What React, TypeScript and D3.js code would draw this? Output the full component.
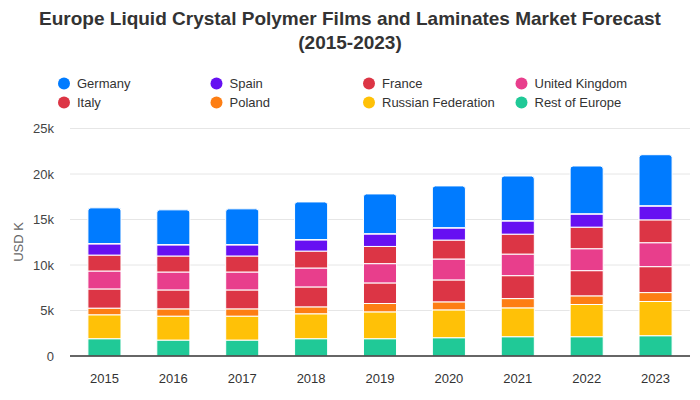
import React from "react";
import * as d3 from "d3";

const years = ["2015", "2016", "2017", "2018", "2019", "2020", "2021", "2022", "2023"];
const seriesNames = ["Rest of Europe", "Russian Federation", "Poland", "Italy", "United Kingdom", "France", "Spain", "Germany"];
const restOfEurope = [1.90, 1.75, 1.75, 1.90, 1.90, 2.01, 2.12, 2.12, 2.23];
const russianFederation = [2.63, 2.63, 2.63, 2.74, 2.95, 3.06, 3.17, 3.54, 3.76];
const poland = [0.73, 0.80, 0.80, 0.76, 0.92, 0.88, 1.02, 0.95, 0.98];
const italy = [2.11, 2.08, 2.08, 2.19, 2.26, 2.41, 2.52, 2.77, 2.85];
const unitedKingdom = [1.97, 1.97, 1.97, 2.08, 2.12, 2.30, 2.37, 2.41, 2.63];
const france = [1.75, 1.76, 1.76, 1.86, 1.89, 2.08, 2.19, 2.37, 2.51];
const spain = [1.21, 1.20, 1.20, 1.21, 1.35, 1.31, 1.43, 1.42, 1.50];
const germany = [3.98, 3.87, 3.98, 4.19, 4.42, 4.64, 4.96, 5.30, 5.66];
const yTicks = [0, 5000, 10000, 15000, 20000, 25000];
const legendOrder = ["Germany", "Spain", "France", "United Kingdom", "Italy", "Poland", "Russian Federation", "Rest of Europe"];

const colors: Record<string, string> = {
  Germany: "#007bff",
  Spain: "#6610f2",
  France: "#dc3545",
  "United Kingdom": "#e83e8c",
  Italy: "#dc3545",
  Poland: "#fd7e14",
  "Russian Federation": "#ffc107",
  "Rest of Europe": "#20c997",
};

const seriesValues = [restOfEurope, russianFederation, poland, italy, unitedKingdom, france, spain, germany];

export default function App() {
  const W = 700, H = 400;
  const x = d3.scaleBand().domain(years).range([70, 690]).paddingInner(0.52).paddingOuter(0.26);
  const y = d3.scaleLinear().domain([0, 25000]).range([356, 128.5]);
  const rows = years.map((yr, i) => {
    const r: any = { year: yr };
    seriesNames.forEach((s, j) => (r[s] = seriesValues[j][i] * 1000));
    return r;
  });
  const stacked = d3.stack().keys(seriesNames)(rows);
  const font = "'Liberation Sans', Arial, Helvetica, sans-serif";
  const topPath = (x0: number, w: number, yTop: number, yBot: number, r: number) =>
    `M${x0},${yBot}V${yTop + r}Q${x0},${yTop} ${x0 + r},${yTop}H${x0 + w - r}Q${x0 + w},${yTop} ${x0 + w},${yTop + r}V${yBot}Z`;
  return (
    <svg width={W} height={H} style={{ position: "absolute", left: 0, top: 0, fontFamily: font }}>
      <rect width={W} height={H} fill="#fff" />
      <text x={350} y={25} textAnchor="middle" fontSize={19} fontWeight="bold" fill="#333">
        Europe Liquid Crystal Polymer Films and Laminates Market Forecast
      </text>
      <text x={350} y={49} textAnchor="middle" fontSize={19} fontWeight="bold" fill="#333">
        (2015-2023)
      </text>
      {legendOrder.map((name, i) => {
        const col = i % 4, row = Math.floor(i / 4);
        const cx = 64 + col * 152.5, cy = 83.5 + row * 19;
        return (
          <g key={name}>
            <circle cx={cx} cy={cy} r={6} fill={colors[name]} />
            <text x={cx + 13} y={cy} dy="0.35em" fontSize={13} fill="#333">{name}</text>
          </g>
        );
      })}
      {yTicks.map((t) => (
        <g key={t}>
          {t > 0 && <line x1={70} x2={690} y1={y(t)} y2={y(t)} stroke="#e6e6e6" strokeWidth={1} />}
          <text x={54} y={y(t)} dy="0.35em" textAnchor="end" fontSize={13} fill="#444">
            {t === 0 ? "0" : `${t / 1000}k`}
          </text>
        </g>
      ))}
      <text transform={`translate(23,242) rotate(-90)`} textAnchor="middle" fontSize={13} fill="#666">USD K</text>
      {stacked.map((layer) => (
        <g key={layer.key}>
          {layer.map((d, i) => {
            const x0 = x(years[i])!;
            const w = x.bandwidth();
            const yTop = y(d[1]);
            const yBot = y(d[0]);
            if (layer.key === "Germany") {
              return <path key={i} d={topPath(x0, w, yTop, yBot - 0.5, 3)} fill={colors[layer.key]} stroke="#fff" strokeWidth={1} />;
            }
            return <rect key={i} x={x0} y={yTop} width={w} height={yBot - yTop} fill={colors[layer.key]} stroke="#fff" strokeWidth={1} />;
          })}
        </g>
      ))}
      <line x1={70} x2={690} y1={356} y2={356} stroke="#333" strokeWidth={1.5} />
      {years.map((yr) => (
        <text key={yr} x={x(yr)! + x.bandwidth() / 2} y={378} dy="0.35em" textAnchor="middle" fontSize={13} fill="#333">
          {yr}
        </text>
      ))}
    </svg>
  );
}
